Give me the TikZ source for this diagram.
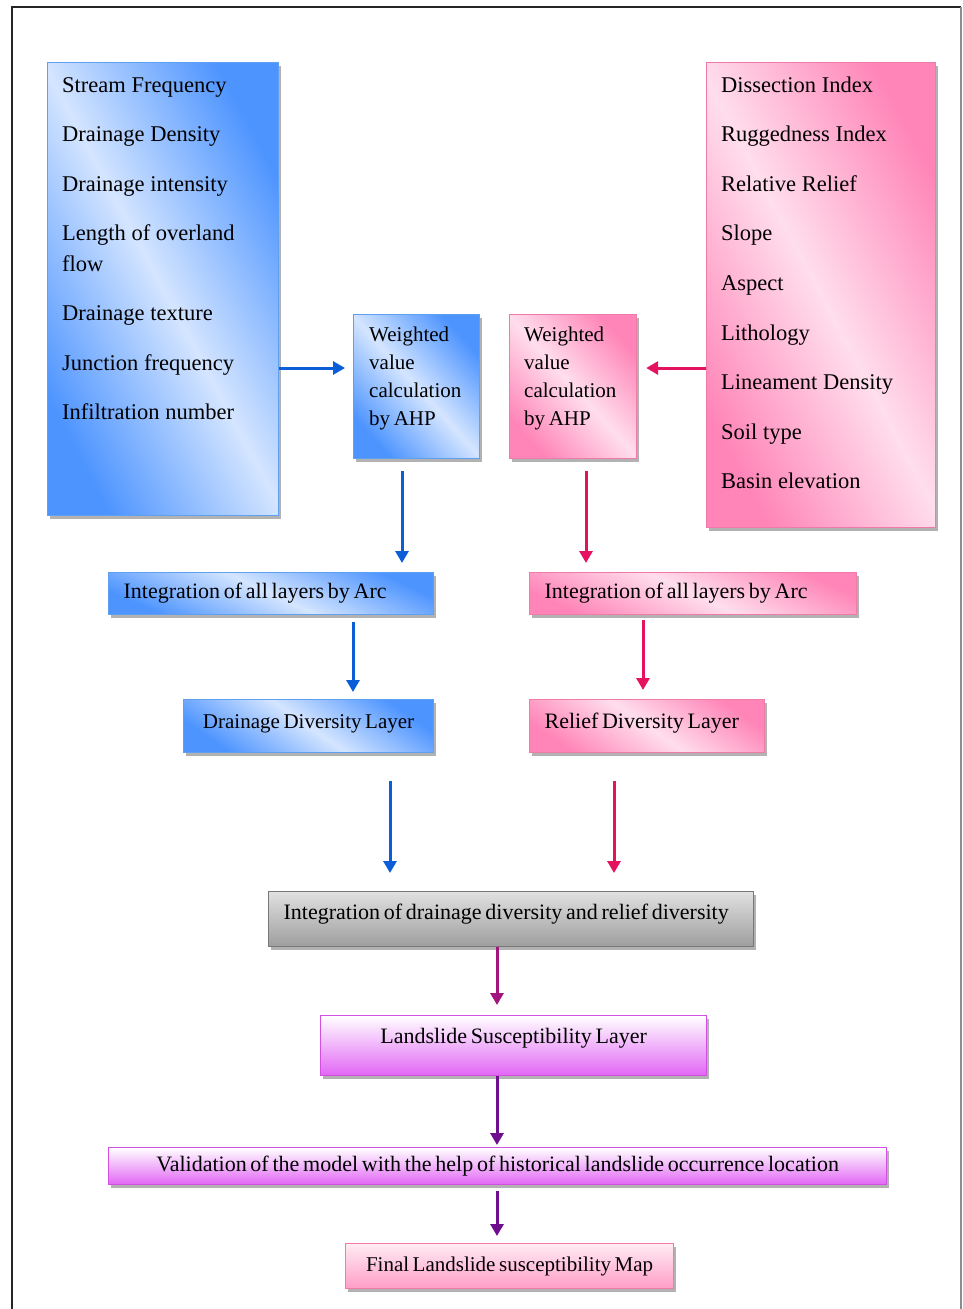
\documentclass[tikz,border=0pt]{standalone}
\usepackage{fontspec}
\setmainfont{Liberation Serif}
\usetikzlibrary{arrows.meta,shadows}

\definecolor{bluedark}{RGB}{77,148,255}
\definecolor{bluelight}{RGB}{212,229,255}
\definecolor{bluedge}{RGB}{95,160,240}
\definecolor{pinkdark}{RGB}{255,133,184}
\definecolor{pinklight}{RGB}{255,222,236}
\definecolor{pinkedge}{RGB}{240,122,168}
\definecolor{grayedge}{RGB}{120,120,120}
\definecolor{violetdark}{RGB}{226,102,245}
\definecolor{violetedge}{RGB}{210,80,225}
\definecolor{bluearrow}{RGB}{11,94,215}
\definecolor{pinkarrow}{RGB}{229,19,95}
\definecolor{purpleone}{RGB}{163,21,127}
\definecolor{purpletwo}{RGB}{111,15,143}

\tikzset{
	box/.style={rectangle, draw, line width=1.2pt, inner sep=0pt,
		drop shadow={shadow xshift=2.5pt, shadow yshift=-3pt, fill=black!55, opacity=.55}},
	bluebox/.style={box, draw=bluedge, top color=bluedark, bottom color=bluedark,
		middle color=bluelight, shading angle=#1},
	bluebox/.default=-45,
	pinkbox/.style={box, draw=pinkedge, top color=pinkdark, bottom color=pinkdark,
		middle color=pinklight, shading angle=#1},
	pinkbox/.default=-45,
	graybox/.style={box, draw=grayedge, top color=black!12, bottom color=black!38},
	violetbox/.style={box, draw=violetedge, top color=white, bottom color=violetdark},
	finalbox/.style={box, draw=pinkedge, top color=pinklight!60, bottom color=pinkdark!80},
	item/.style={anchor=west, inner sep=0pt, text height=15pt, text depth=0pt,
		font=\fontsize{22.5}{31}\selectfont},
	label/.style={inner xsep=15pt, inner ysep=0pt, align=left,
		font=\fontsize{22}{28}\selectfont,
		execute at begin node={\spaceskip=.17em\relax}},
	ahptext/.style={label, anchor=north west, inner xsep=0pt, font=\fontsize{21}{28}\selectfont},
	arr/.style={line width=3pt, -{Triangle[length=12pt,width=13pt]}}
}

\begin{document}
\begin{tikzpicture}[x=1pt, y=-1pt]
		\useasboundingbox (0,0) rectangle (963,1309);
		\fill[white] (0,0) rectangle (963,1309);
		\draw[line width=2pt, black!85] (12,1320) -- (12,7) -- (961,7);
		\draw[line width=1.5pt, black!45] (961,7) -- (961,1320);
		
		% drainage parameters
		\node[bluebox=-62, anchor=north west, minimum width=231pt, minimum height=453pt] (drain) at (47,62) {};
		\node[item] (d1) at (62,85) {Stream Frequency};
		\node[item] (d2) at (62,134) {Drainage Density};
		\node[item] (d3) at (62,184) {Drainage intensity};
		\node[item] (d4) at (62,233) {Length of overland};
		\node[item] (d4b) at (62,264) {flow};
		\node[item] (d5) at (62,313) {Drainage texture};
		\node[item] (d6) at (62,363) {Junction frequency};
		\node[item] (d7) at (62,412) {Infiltration number};
		
		% relief parameters
		\node[pinkbox=-62, anchor=north west, minimum width=229pt, minimum height=465pt] (relief) at (706,62) {};
		\node[item] (r1) at (721,85) {Dissection Index};
		\node[item] (r2) at (721,134) {Ruggedness Index};
		\node[item] (r3) at (721,184) {Relative Relief};
		\node[item] (r4) at (721,233) {Slope};
		\node[item] (r5) at (721,283) {Aspect};
		\node[item] (r6) at (721,333) {Lithology};
		\node[item] (r7) at (721,382) {Lineament Density};
		\node[item] (r8) at (721,432) {Soil type};
		\node[item] (r9) at (721,481) {Basin elevation};
		
		% AHP boxes
		\node[bluebox=-48, anchor=north west, minimum width=126pt, minimum height=144pt] (ahpL) at (353,314) {};
		\node[ahptext] (ahpLt) at (369,327) {Weighted\\value\\calculation\\by AHP};
		\node[pinkbox=-48, anchor=north west, minimum width=127pt, minimum height=144pt] (ahpR) at (509,314) {};
		\node[ahptext] (ahpRt) at (524,327) {Weighted\\value\\calculation\\by AHP};
		
		% layers
		\node[bluebox=-25, label, anchor=north west, text width=295pt, minimum height=42pt] (intL) at (108,572) {Integration of all layers by Arc};
		\node[pinkbox=-25, label, anchor=north west, text width=297pt, minimum height=42pt] (intR) at (529,572) {Integration of all layers by Arc};
		\node[bluebox=-35, label, anchor=north west, minimum width=250pt, minimum height=53pt, text height=14pt, text depth=10pt, font=\fontsize{21}{28}\selectfont] (ddl) at (183,699) {Drainage Diversity Layer};
		\node[pinkbox=-35, label, anchor=north west, text width=205pt, minimum height=53pt, text height=14pt, text depth=10pt] (rdl) at (529,699) {Relief Diversity Layer};
		\node[graybox, label, anchor=north west, text width=455pt, minimum height=55pt, text height=14pt, text depth=12.5pt] (integ) at (268,891) {Integration of drainage diversity and relief diversity};
		\node[violetbox, label, anchor=north west, align=center, text width=356pt, minimum height=60pt, text height=14pt, text depth=18.5pt] (lsl) at (320,1015) {Landslide Susceptibility Layer};
		\node[violetbox, label, anchor=north west, align=center, text width=748pt, minimum height=37pt] (valid) at (108,1147) {Validation of the model with the help of historical landslide occurrence location};
		\node[finalbox, label, anchor=north west, minimum width=328pt, minimum height=45pt, font=\fontsize{21}{28}\selectfont] (final) at (345,1243) {Final Landslide susceptibility Map};
		
		% arrow positions
		\coordinate (hL) at (0,368);
		\coordinate (a1) at (402,0);
		\coordinate (a2) at (586,0);
		\coordinate (a3) at (353,0);
		\coordinate (a4) at (643,0);
		\coordinate (a5) at (390,0);
		\coordinate (a6) at (614,0);
		\coordinate (a7) at (497,0);
		
		\draw[arr, bluearrow, shorten >=8pt] (drain.east |- hL) -- (ahpL.west |- hL);
		\draw[arr, pinkarrow, shorten >=9pt] (relief.west |- hL) -- (ahpR.east |- hL);
		\draw[arr, bluearrow, shorten <=12pt, shorten >=9pt] (ahpL.south -| a1) -- (intL.north -| a1);
		\draw[arr, pinkarrow, shorten <=12pt, shorten >=9pt] (ahpR.south -| a2) -- (intR.north -| a2);
		\draw[arr, bluearrow, shorten <=7pt, shorten >=7pt] (intL.south -| a3) -- (ddl.north -| a3);
		\draw[arr, pinkarrow, shorten <=5pt, shorten >=9pt] (intR.south -| a4) -- (rdl.north -| a4);
		\draw[arr, bluearrow, shorten <=28pt, shorten >=18pt] (ddl.south -| a5) -- (integ.north -| a5);
		\draw[arr, pinkarrow, shorten <=28pt, shorten >=18pt] (rdl.south -| a6) -- (integ.north -| a6);
		\draw[arr, purpleone, shorten >=10pt] (integ.south -| a7) -- (lsl.north -| a7);
		\draw[arr, purpletwo, shorten >=2pt] (lsl.south -| a7) -- (valid.north -| a7);
		\draw[arr, purpletwo, shorten <=6pt, shorten >=7pt] (valid.south -| a7) -- (final.north -| a7);
	\end{tikzpicture}
\end{document}
